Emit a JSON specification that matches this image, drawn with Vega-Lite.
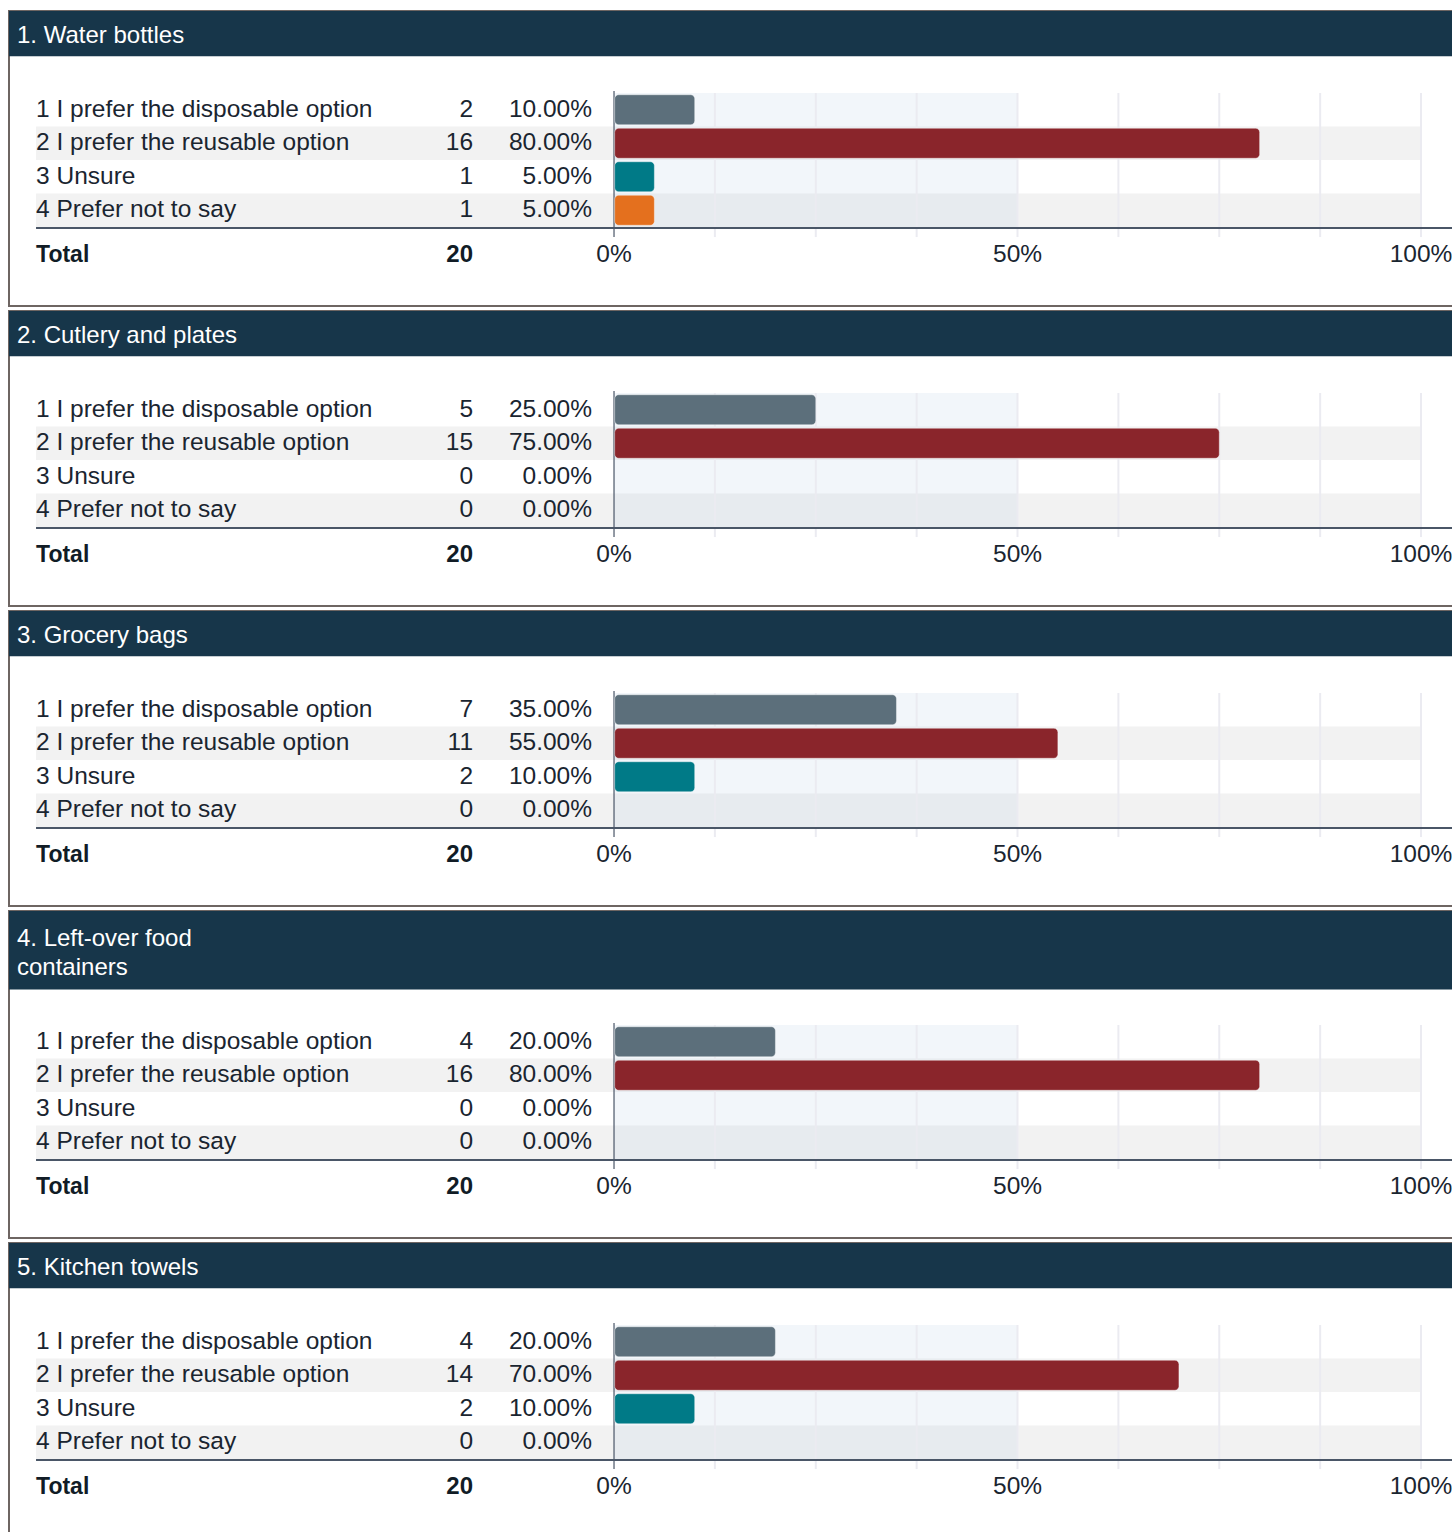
{
  "$schema": "https://vega.github.io/schema/vega-lite/v6.json",
  "padding": {"left": 8, "top": 10, "right": 0, "bottom": 0},
  "background": "white",
  "spacing": 3,
  "datasets": {
    "responses": [
      {"q": 1, "opt": 1, "label": "1 I prefer the disposable option", "count": 2, "pct": 0.10},
      {"q": 1, "opt": 2, "label": "2 I prefer the reusable option", "count": 16, "pct": 0.80},
      {"q": 1, "opt": 3, "label": "3 Unsure", "count": 1, "pct": 0.05},
      {"q": 1, "opt": 4, "label": "4 Prefer not to say", "count": 1, "pct": 0.05},
      {"q": 2, "opt": 1, "label": "1 I prefer the disposable option", "count": 5, "pct": 0.25},
      {"q": 2, "opt": 2, "label": "2 I prefer the reusable option", "count": 15, "pct": 0.75},
      {"q": 2, "opt": 3, "label": "3 Unsure", "count": 0, "pct": 0.0},
      {"q": 2, "opt": 4, "label": "4 Prefer not to say", "count": 0, "pct": 0.0},
      {"q": 3, "opt": 1, "label": "1 I prefer the disposable option", "count": 7, "pct": 0.35},
      {"q": 3, "opt": 2, "label": "2 I prefer the reusable option", "count": 11, "pct": 0.55},
      {"q": 3, "opt": 3, "label": "3 Unsure", "count": 2, "pct": 0.10},
      {"q": 3, "opt": 4, "label": "4 Prefer not to say", "count": 0, "pct": 0.0},
      {"q": 4, "opt": 1, "label": "1 I prefer the disposable option", "count": 4, "pct": 0.20},
      {"q": 4, "opt": 2, "label": "2 I prefer the reusable option", "count": 16, "pct": 0.80},
      {"q": 4, "opt": 3, "label": "3 Unsure", "count": 0, "pct": 0.0},
      {"q": 4, "opt": 4, "label": "4 Prefer not to say", "count": 0, "pct": 0.0},
      {"q": 5, "opt": 1, "label": "1 I prefer the disposable option", "count": 4, "pct": 0.20},
      {"q": 5, "opt": 2, "label": "2 I prefer the reusable option", "count": 14, "pct": 0.70},
      {"q": 5, "opt": 3, "label": "3 Unsure", "count": 2, "pct": 0.10},
      {"q": 5, "opt": 4, "label": "4 Prefer not to say", "count": 0, "pct": 0.0}
    ],
    "questions": [
      {"q": 1, "title": "1. Water bottles", "total": 20},
      {"q": 2, "title": "2. Cutlery and plates", "total": 20},
      {"q": 3, "title": "3. Grocery bags", "total": 20},
      {"q": 4, "title": "4. Left-over food\ncontainers", "total": 20},
      {"q": 5, "title": "5. Kitchen towels", "total": 20}
    ],
    "grid": [{"v": 0.125}, {"v": 0.25}, {"v": 0.375}, {"v": 0.5}, {"v": 0.625}, {"v": 0.75}, {"v": 0.875}, {"v": 1.0}],
    "ticklabels": [{"v": 0}, {"v": 0.5}, {"v": 1}]
  },
  "vconcat": [
    {
      "width": 1446, "height": 295,
      "layer": [
        {"data": {"name": "responses"}, "transform": [{"filter": "datum.q == 1 && (datum.opt == 2 || datum.opt == 4)"}],
         "mark": {"type": "bar", "orient": "horizontal", "height": 33.5, "color": "#f2f2f2"},
         "encoding": {"x": {"datum": -0.7162, "type": "quantitative", "scale": {"domain": [-0.7497, 1.0421], "nice": false, "zero": false, "padding": 0}, "axis": null}, "x2": {"datum": 1}, "y": {"field": "opt", "type": "quantitative", "scale": {"domain": [-1.948, 6.858], "nice": false, "zero": false, "reverse": true, "padding": 0}, "axis": null}}},
        {"data": {"name": "questions"}, "transform": [{"filter": "datum.q == 1"}],
         "mark": {"type": "rect", "color": "#b1c5df", "opacity": 0.16},
         "encoding": {"x": {"datum": 0, "type": "quantitative", "scale": {"domain": [-0.7497, 1.0421], "nice": false, "zero": false, "padding": 0}, "axis": null}, "x2": {"datum": 0.5}, "y": {"datum": 0.5, "type": "quantitative", "scale": {"domain": [-1.948, 6.858], "nice": false, "zero": false, "reverse": true, "padding": 0}, "axis": null}, "y2": {"datum": 4.5}}},
        {"data": {"name": "grid"},
         "mark": {"type": "rule", "color": "#ebebf1", "strokeWidth": 2},
         "encoding": {"x": {"field": "v", "type": "quantitative", "scale": {"domain": [-0.7497, 1.0421], "nice": false, "zero": false, "padding": 0}, "axis": null}, "y": {"datum": 0.5, "type": "quantitative", "scale": {"domain": [-1.948, 6.858], "nice": false, "zero": false, "reverse": true, "padding": 0}, "axis": null}, "y2": {"datum": 4.8}}},
        {"data": {"name": "questions"}, "transform": [{"filter": "datum.q == 1"}],
         "mark": {"type": "rule", "color": "#4a5667", "strokeWidth": 1.2},
         "encoding": {"x": {"datum": 0, "type": "quantitative", "scale": {"domain": [-0.7497, 1.0421], "nice": false, "zero": false, "padding": 0}, "axis": null}, "y": {"datum": 0.44, "type": "quantitative", "scale": {"domain": [-1.948, 6.858], "nice": false, "zero": false, "reverse": true, "padding": 0}, "axis": null}, "y2": {"datum": 4.8}}},
        {"data": {"name": "questions"}, "transform": [{"filter": "datum.q == 1"}],
         "mark": {"type": "rule", "color": "#4a5667", "strokeWidth": 2},
         "encoding": {"x": {"datum": -0.7162, "type": "quantitative", "scale": {"domain": [-0.7497, 1.0421], "nice": false, "zero": false, "padding": 0}, "axis": null}, "x2": {"datum": 1.0421}, "y": {"datum": 4.53, "type": "quantitative", "scale": {"domain": [-1.948, 6.858], "nice": false, "zero": false, "reverse": true, "padding": 0}, "axis": null}}},
        {"data": {"name": "responses"}, "transform": [{"filter": "datum.q == 1 && datum.pct > 0"}],
         "mark": {"type": "bar", "orient": "horizontal", "height": 30, "cornerRadius": 4, "stroke": "white", "strokeOpacity": 0.4, "strokeWidth": 1},
         "encoding": {"x": {"field": "pct", "type": "quantitative", "scale": {"domain": [-0.7497, 1.0421], "nice": false, "zero": false, "padding": 0}, "axis": null}, "x2": {"datum": 0.0008}, "y": {"field": "opt", "type": "quantitative", "scale": {"domain": [-1.948, 6.858], "nice": false, "zero": false, "reverse": true, "padding": 0}, "axis": null}, "color": {"field": "opt", "type": "nominal", "scale": {"domain": [1, 2, 3, 4], "range": ["#5c6f7b", "#8a252b", "#007a87", "#e4701e"]}, "legend": null}}},
        {"data": {"name": "responses"}, "transform": [{"filter": "datum.q == 1"}],
         "mark": {"type": "text", "align": "left", "baseline": "middle", "fontSize": 24.5, "color": "#1a2530", "font": "Liberation Sans"},
         "encoding": {"x": {"datum": -0.7162, "type": "quantitative", "scale": {"domain": [-0.7497, 1.0421], "nice": false, "zero": false, "padding": 0}, "axis": null}, "y": {"field": "opt", "type": "quantitative", "scale": {"domain": [-1.948, 6.858], "nice": false, "zero": false, "reverse": true, "padding": 0}, "axis": null}, "text": {"field": "label"}}},
        {"data": {"name": "responses"}, "transform": [{"filter": "datum.q == 1"}],
         "mark": {"type": "text", "align": "right", "baseline": "middle", "fontSize": 24.5, "color": "#1a2530", "font": "Liberation Sans"},
         "encoding": {"x": {"datum": -0.1747, "type": "quantitative", "scale": {"domain": [-0.7497, 1.0421], "nice": false, "zero": false, "padding": 0}, "axis": null}, "y": {"field": "opt", "type": "quantitative", "scale": {"domain": [-1.948, 6.858], "nice": false, "zero": false, "reverse": true, "padding": 0}, "axis": null}, "text": {"field": "count"}}},
        {"data": {"name": "responses"}, "transform": [{"filter": "datum.q == 1"}],
         "mark": {"type": "text", "align": "right", "baseline": "middle", "fontSize": 24.5, "color": "#1a2530", "font": "Liberation Sans"},
         "encoding": {"x": {"datum": -0.02726, "type": "quantitative", "scale": {"domain": [-0.7497, 1.0421], "nice": false, "zero": false, "padding": 0}, "axis": null}, "y": {"field": "opt", "type": "quantitative", "scale": {"domain": [-1.948, 6.858], "nice": false, "zero": false, "reverse": true, "padding": 0}, "axis": null}, "text": {"field": "pct", "type": "quantitative", "format": ".2%"}}},
        {"data": {"name": "questions"}, "transform": [{"filter": "datum.q == 1"}],
         "mark": {"type": "rect", "color": "#17364a"},
         "encoding": {"x": {"datum": -0.7497, "type": "quantitative", "scale": {"domain": [-0.7497, 1.0421], "nice": false, "zero": false, "padding": 0}, "axis": null}, "x2": {"datum": 1.0421}, "y": {"datum": -1.948, "type": "quantitative", "scale": {"domain": [-1.948, 6.858], "nice": false, "zero": false, "reverse": true, "padding": 0}, "axis": null}, "y2": {"datum": -0.6}}},
        {"data": {"name": "questions"}, "transform": [{"filter": "datum.q == 1"}],
         "mark": {"type": "text", "align": "left", "baseline": "middle", "fontSize": 24, "color": "white", "font": "Liberation Sans", "lineBreak": "\n", "lineHeight": 29},
         "encoding": {"x": {"datum": -0.7398, "type": "quantitative", "scale": {"domain": [-0.7497, 1.0421], "nice": false, "zero": false, "padding": 0}, "axis": null}, "y": {"datum": -1.2, "type": "quantitative", "scale": {"domain": [-1.948, 6.858], "nice": false, "zero": false, "reverse": true, "padding": 0}, "axis": null}, "text": {"field": "title"}}},
        {"data": {"name": "questions"}, "transform": [{"filter": "datum.q == 1"}],
         "mark": {"type": "text", "text": "Total", "align": "left", "baseline": "middle", "fontSize": 23, "fontWeight": "bold", "color": "#111c26", "font": "Liberation Sans"},
         "encoding": {"x": {"datum": -0.7162, "type": "quantitative", "scale": {"domain": [-0.7497, 1.0421], "nice": false, "zero": false, "padding": 0}, "axis": null}, "y": {"datum": 5.335, "type": "quantitative", "scale": {"domain": [-1.948, 6.858], "nice": false, "zero": false, "reverse": true, "padding": 0}, "axis": null}}},
        {"data": {"name": "questions"}, "transform": [{"filter": "datum.q == 1"}],
         "mark": {"type": "text", "align": "right", "baseline": "middle", "fontSize": 24, "fontWeight": "bold", "color": "#111c26", "font": "Liberation Sans"},
         "encoding": {"x": {"datum": -0.1747, "type": "quantitative", "scale": {"domain": [-0.7497, 1.0421], "nice": false, "zero": false, "padding": 0}, "axis": null}, "y": {"datum": 5.335, "type": "quantitative", "scale": {"domain": [-1.948, 6.858], "nice": false, "zero": false, "reverse": true, "padding": 0}, "axis": null}, "text": {"field": "total"}}},
        {"data": {"name": "ticklabels"},
         "mark": {"type": "text", "align": "center", "baseline": "middle", "fontSize": 24.5, "color": "#1a2530", "font": "Liberation Sans"},
         "encoding": {"x": {"field": "v", "type": "quantitative", "scale": {"domain": [-0.7497, 1.0421], "nice": false, "zero": false, "padding": 0}, "axis": null}, "y": {"datum": 5.335, "type": "quantitative", "scale": {"domain": [-1.948, 6.858], "nice": false, "zero": false, "reverse": true, "padding": 0}, "axis": null}, "text": {"field": "v", "type": "quantitative", "format": ".0%"}}}
      ]
    },
    {
      "width": 1446, "height": 295,
      "layer": [
        {"data": {"name": "responses"}, "transform": [{"filter": "datum.q == 2 && (datum.opt == 2 || datum.opt == 4)"}],
         "mark": {"type": "bar", "orient": "horizontal", "height": 33.5, "color": "#f2f2f2"},
         "encoding": {"x": {"datum": -0.7162, "type": "quantitative", "scale": {"domain": [-0.7497, 1.0421], "nice": false, "zero": false, "padding": 0}, "axis": null}, "x2": {"datum": 1}, "y": {"field": "opt", "type": "quantitative", "scale": {"domain": [-1.948, 6.858], "nice": false, "zero": false, "reverse": true, "padding": 0}, "axis": null}}},
        {"data": {"name": "questions"}, "transform": [{"filter": "datum.q == 2"}],
         "mark": {"type": "rect", "color": "#b1c5df", "opacity": 0.16},
         "encoding": {"x": {"datum": 0, "type": "quantitative", "scale": {"domain": [-0.7497, 1.0421], "nice": false, "zero": false, "padding": 0}, "axis": null}, "x2": {"datum": 0.5}, "y": {"datum": 0.5, "type": "quantitative", "scale": {"domain": [-1.948, 6.858], "nice": false, "zero": false, "reverse": true, "padding": 0}, "axis": null}, "y2": {"datum": 4.5}}},
        {"data": {"name": "grid"},
         "mark": {"type": "rule", "color": "#ebebf1", "strokeWidth": 2},
         "encoding": {"x": {"field": "v", "type": "quantitative", "scale": {"domain": [-0.7497, 1.0421], "nice": false, "zero": false, "padding": 0}, "axis": null}, "y": {"datum": 0.5, "type": "quantitative", "scale": {"domain": [-1.948, 6.858], "nice": false, "zero": false, "reverse": true, "padding": 0}, "axis": null}, "y2": {"datum": 4.8}}},
        {"data": {"name": "questions"}, "transform": [{"filter": "datum.q == 2"}],
         "mark": {"type": "rule", "color": "#4a5667", "strokeWidth": 1.2},
         "encoding": {"x": {"datum": 0, "type": "quantitative", "scale": {"domain": [-0.7497, 1.0421], "nice": false, "zero": false, "padding": 0}, "axis": null}, "y": {"datum": 0.44, "type": "quantitative", "scale": {"domain": [-1.948, 6.858], "nice": false, "zero": false, "reverse": true, "padding": 0}, "axis": null}, "y2": {"datum": 4.8}}},
        {"data": {"name": "questions"}, "transform": [{"filter": "datum.q == 2"}],
         "mark": {"type": "rule", "color": "#4a5667", "strokeWidth": 2},
         "encoding": {"x": {"datum": -0.7162, "type": "quantitative", "scale": {"domain": [-0.7497, 1.0421], "nice": false, "zero": false, "padding": 0}, "axis": null}, "x2": {"datum": 1.0421}, "y": {"datum": 4.53, "type": "quantitative", "scale": {"domain": [-1.948, 6.858], "nice": false, "zero": false, "reverse": true, "padding": 0}, "axis": null}}},
        {"data": {"name": "responses"}, "transform": [{"filter": "datum.q == 2 && datum.pct > 0"}],
         "mark": {"type": "bar", "orient": "horizontal", "height": 30, "cornerRadius": 4, "stroke": "white", "strokeOpacity": 0.4, "strokeWidth": 1},
         "encoding": {"x": {"field": "pct", "type": "quantitative", "scale": {"domain": [-0.7497, 1.0421], "nice": false, "zero": false, "padding": 0}, "axis": null}, "x2": {"datum": 0.0008}, "y": {"field": "opt", "type": "quantitative", "scale": {"domain": [-1.948, 6.858], "nice": false, "zero": false, "reverse": true, "padding": 0}, "axis": null}, "color": {"field": "opt", "type": "nominal", "scale": {"domain": [1, 2, 3, 4], "range": ["#5c6f7b", "#8a252b", "#007a87", "#e4701e"]}, "legend": null}}},
        {"data": {"name": "responses"}, "transform": [{"filter": "datum.q == 2"}],
         "mark": {"type": "text", "align": "left", "baseline": "middle", "fontSize": 24.5, "color": "#1a2530", "font": "Liberation Sans"},
         "encoding": {"x": {"datum": -0.7162, "type": "quantitative", "scale": {"domain": [-0.7497, 1.0421], "nice": false, "zero": false, "padding": 0}, "axis": null}, "y": {"field": "opt", "type": "quantitative", "scale": {"domain": [-1.948, 6.858], "nice": false, "zero": false, "reverse": true, "padding": 0}, "axis": null}, "text": {"field": "label"}}},
        {"data": {"name": "responses"}, "transform": [{"filter": "datum.q == 2"}],
         "mark": {"type": "text", "align": "right", "baseline": "middle", "fontSize": 24.5, "color": "#1a2530", "font": "Liberation Sans"},
         "encoding": {"x": {"datum": -0.1747, "type": "quantitative", "scale": {"domain": [-0.7497, 1.0421], "nice": false, "zero": false, "padding": 0}, "axis": null}, "y": {"field": "opt", "type": "quantitative", "scale": {"domain": [-1.948, 6.858], "nice": false, "zero": false, "reverse": true, "padding": 0}, "axis": null}, "text": {"field": "count"}}},
        {"data": {"name": "responses"}, "transform": [{"filter": "datum.q == 2"}],
         "mark": {"type": "text", "align": "right", "baseline": "middle", "fontSize": 24.5, "color": "#1a2530", "font": "Liberation Sans"},
         "encoding": {"x": {"datum": -0.02726, "type": "quantitative", "scale": {"domain": [-0.7497, 1.0421], "nice": false, "zero": false, "padding": 0}, "axis": null}, "y": {"field": "opt", "type": "quantitative", "scale": {"domain": [-1.948, 6.858], "nice": false, "zero": false, "reverse": true, "padding": 0}, "axis": null}, "text": {"field": "pct", "type": "quantitative", "format": ".2%"}}},
        {"data": {"name": "questions"}, "transform": [{"filter": "datum.q == 2"}],
         "mark": {"type": "rect", "color": "#17364a"},
         "encoding": {"x": {"datum": -0.7497, "type": "quantitative", "scale": {"domain": [-0.7497, 1.0421], "nice": false, "zero": false, "padding": 0}, "axis": null}, "x2": {"datum": 1.0421}, "y": {"datum": -1.948, "type": "quantitative", "scale": {"domain": [-1.948, 6.858], "nice": false, "zero": false, "reverse": true, "padding": 0}, "axis": null}, "y2": {"datum": -0.6}}},
        {"data": {"name": "questions"}, "transform": [{"filter": "datum.q == 2"}],
         "mark": {"type": "text", "align": "left", "baseline": "middle", "fontSize": 24, "color": "white", "font": "Liberation Sans", "lineBreak": "\n", "lineHeight": 29},
         "encoding": {"x": {"datum": -0.7398, "type": "quantitative", "scale": {"domain": [-0.7497, 1.0421], "nice": false, "zero": false, "padding": 0}, "axis": null}, "y": {"datum": -1.2, "type": "quantitative", "scale": {"domain": [-1.948, 6.858], "nice": false, "zero": false, "reverse": true, "padding": 0}, "axis": null}, "text": {"field": "title"}}},
        {"data": {"name": "questions"}, "transform": [{"filter": "datum.q == 2"}],
         "mark": {"type": "text", "text": "Total", "align": "left", "baseline": "middle", "fontSize": 23, "fontWeight": "bold", "color": "#111c26", "font": "Liberation Sans"},
         "encoding": {"x": {"datum": -0.7162, "type": "quantitative", "scale": {"domain": [-0.7497, 1.0421], "nice": false, "zero": false, "padding": 0}, "axis": null}, "y": {"datum": 5.335, "type": "quantitative", "scale": {"domain": [-1.948, 6.858], "nice": false, "zero": false, "reverse": true, "padding": 0}, "axis": null}}},
        {"data": {"name": "questions"}, "transform": [{"filter": "datum.q == 2"}],
         "mark": {"type": "text", "align": "right", "baseline": "middle", "fontSize": 24, "fontWeight": "bold", "color": "#111c26", "font": "Liberation Sans"},
         "encoding": {"x": {"datum": -0.1747, "type": "quantitative", "scale": {"domain": [-0.7497, 1.0421], "nice": false, "zero": false, "padding": 0}, "axis": null}, "y": {"datum": 5.335, "type": "quantitative", "scale": {"domain": [-1.948, 6.858], "nice": false, "zero": false, "reverse": true, "padding": 0}, "axis": null}, "text": {"field": "total"}}},
        {"data": {"name": "ticklabels"},
         "mark": {"type": "text", "align": "center", "baseline": "middle", "fontSize": 24.5, "color": "#1a2530", "font": "Liberation Sans"},
         "encoding": {"x": {"field": "v", "type": "quantitative", "scale": {"domain": [-0.7497, 1.0421], "nice": false, "zero": false, "padding": 0}, "axis": null}, "y": {"datum": 5.335, "type": "quantitative", "scale": {"domain": [-1.948, 6.858], "nice": false, "zero": false, "reverse": true, "padding": 0}, "axis": null}, "text": {"field": "v", "type": "quantitative", "format": ".0%"}}}
      ]
    },
    {
      "width": 1446, "height": 295,
      "layer": [
        {"data": {"name": "responses"}, "transform": [{"filter": "datum.q == 3 && (datum.opt == 2 || datum.opt == 4)"}],
         "mark": {"type": "bar", "orient": "horizontal", "height": 33.5, "color": "#f2f2f2"},
         "encoding": {"x": {"datum": -0.7162, "type": "quantitative", "scale": {"domain": [-0.7497, 1.0421], "nice": false, "zero": false, "padding": 0}, "axis": null}, "x2": {"datum": 1}, "y": {"field": "opt", "type": "quantitative", "scale": {"domain": [-1.948, 6.858], "nice": false, "zero": false, "reverse": true, "padding": 0}, "axis": null}}},
        {"data": {"name": "questions"}, "transform": [{"filter": "datum.q == 3"}],
         "mark": {"type": "rect", "color": "#b1c5df", "opacity": 0.16},
         "encoding": {"x": {"datum": 0, "type": "quantitative", "scale": {"domain": [-0.7497, 1.0421], "nice": false, "zero": false, "padding": 0}, "axis": null}, "x2": {"datum": 0.5}, "y": {"datum": 0.5, "type": "quantitative", "scale": {"domain": [-1.948, 6.858], "nice": false, "zero": false, "reverse": true, "padding": 0}, "axis": null}, "y2": {"datum": 4.5}}},
        {"data": {"name": "grid"},
         "mark": {"type": "rule", "color": "#ebebf1", "strokeWidth": 2},
         "encoding": {"x": {"field": "v", "type": "quantitative", "scale": {"domain": [-0.7497, 1.0421], "nice": false, "zero": false, "padding": 0}, "axis": null}, "y": {"datum": 0.5, "type": "quantitative", "scale": {"domain": [-1.948, 6.858], "nice": false, "zero": false, "reverse": true, "padding": 0}, "axis": null}, "y2": {"datum": 4.8}}},
        {"data": {"name": "questions"}, "transform": [{"filter": "datum.q == 3"}],
         "mark": {"type": "rule", "color": "#4a5667", "strokeWidth": 1.2},
         "encoding": {"x": {"datum": 0, "type": "quantitative", "scale": {"domain": [-0.7497, 1.0421], "nice": false, "zero": false, "padding": 0}, "axis": null}, "y": {"datum": 0.44, "type": "quantitative", "scale": {"domain": [-1.948, 6.858], "nice": false, "zero": false, "reverse": true, "padding": 0}, "axis": null}, "y2": {"datum": 4.8}}},
        {"data": {"name": "questions"}, "transform": [{"filter": "datum.q == 3"}],
         "mark": {"type": "rule", "color": "#4a5667", "strokeWidth": 2},
         "encoding": {"x": {"datum": -0.7162, "type": "quantitative", "scale": {"domain": [-0.7497, 1.0421], "nice": false, "zero": false, "padding": 0}, "axis": null}, "x2": {"datum": 1.0421}, "y": {"datum": 4.53, "type": "quantitative", "scale": {"domain": [-1.948, 6.858], "nice": false, "zero": false, "reverse": true, "padding": 0}, "axis": null}}},
        {"data": {"name": "responses"}, "transform": [{"filter": "datum.q == 3 && datum.pct > 0"}],
         "mark": {"type": "bar", "orient": "horizontal", "height": 30, "cornerRadius": 4, "stroke": "white", "strokeOpacity": 0.4, "strokeWidth": 1},
         "encoding": {"x": {"field": "pct", "type": "quantitative", "scale": {"domain": [-0.7497, 1.0421], "nice": false, "zero": false, "padding": 0}, "axis": null}, "x2": {"datum": 0.0008}, "y": {"field": "opt", "type": "quantitative", "scale": {"domain": [-1.948, 6.858], "nice": false, "zero": false, "reverse": true, "padding": 0}, "axis": null}, "color": {"field": "opt", "type": "nominal", "scale": {"domain": [1, 2, 3, 4], "range": ["#5c6f7b", "#8a252b", "#007a87", "#e4701e"]}, "legend": null}}},
        {"data": {"name": "responses"}, "transform": [{"filter": "datum.q == 3"}],
         "mark": {"type": "text", "align": "left", "baseline": "middle", "fontSize": 24.5, "color": "#1a2530", "font": "Liberation Sans"},
         "encoding": {"x": {"datum": -0.7162, "type": "quantitative", "scale": {"domain": [-0.7497, 1.0421], "nice": false, "zero": false, "padding": 0}, "axis": null}, "y": {"field": "opt", "type": "quantitative", "scale": {"domain": [-1.948, 6.858], "nice": false, "zero": false, "reverse": true, "padding": 0}, "axis": null}, "text": {"field": "label"}}},
        {"data": {"name": "responses"}, "transform": [{"filter": "datum.q == 3"}],
         "mark": {"type": "text", "align": "right", "baseline": "middle", "fontSize": 24.5, "color": "#1a2530", "font": "Liberation Sans"},
         "encoding": {"x": {"datum": -0.1747, "type": "quantitative", "scale": {"domain": [-0.7497, 1.0421], "nice": false, "zero": false, "padding": 0}, "axis": null}, "y": {"field": "opt", "type": "quantitative", "scale": {"domain": [-1.948, 6.858], "nice": false, "zero": false, "reverse": true, "padding": 0}, "axis": null}, "text": {"field": "count"}}},
        {"data": {"name": "responses"}, "transform": [{"filter": "datum.q == 3"}],
         "mark": {"type": "text", "align": "right", "baseline": "middle", "fontSize": 24.5, "color": "#1a2530", "font": "Liberation Sans"},
         "encoding": {"x": {"datum": -0.02726, "type": "quantitative", "scale": {"domain": [-0.7497, 1.0421], "nice": false, "zero": false, "padding": 0}, "axis": null}, "y": {"field": "opt", "type": "quantitative", "scale": {"domain": [-1.948, 6.858], "nice": false, "zero": false, "reverse": true, "padding": 0}, "axis": null}, "text": {"field": "pct", "type": "quantitative", "format": ".2%"}}},
        {"data": {"name": "questions"}, "transform": [{"filter": "datum.q == 3"}],
         "mark": {"type": "rect", "color": "#17364a"},
         "encoding": {"x": {"datum": -0.7497, "type": "quantitative", "scale": {"domain": [-0.7497, 1.0421], "nice": false, "zero": false, "padding": 0}, "axis": null}, "x2": {"datum": 1.0421}, "y": {"datum": -1.948, "type": "quantitative", "scale": {"domain": [-1.948, 6.858], "nice": false, "zero": false, "reverse": true, "padding": 0}, "axis": null}, "y2": {"datum": -0.6}}},
        {"data": {"name": "questions"}, "transform": [{"filter": "datum.q == 3"}],
         "mark": {"type": "text", "align": "left", "baseline": "middle", "fontSize": 24, "color": "white", "font": "Liberation Sans", "lineBreak": "\n", "lineHeight": 29},
         "encoding": {"x": {"datum": -0.7398, "type": "quantitative", "scale": {"domain": [-0.7497, 1.0421], "nice": false, "zero": false, "padding": 0}, "axis": null}, "y": {"datum": -1.2, "type": "quantitative", "scale": {"domain": [-1.948, 6.858], "nice": false, "zero": false, "reverse": true, "padding": 0}, "axis": null}, "text": {"field": "title"}}},
        {"data": {"name": "questions"}, "transform": [{"filter": "datum.q == 3"}],
         "mark": {"type": "text", "text": "Total", "align": "left", "baseline": "middle", "fontSize": 23, "fontWeight": "bold", "color": "#111c26", "font": "Liberation Sans"},
         "encoding": {"x": {"datum": -0.7162, "type": "quantitative", "scale": {"domain": [-0.7497, 1.0421], "nice": false, "zero": false, "padding": 0}, "axis": null}, "y": {"datum": 5.335, "type": "quantitative", "scale": {"domain": [-1.948, 6.858], "nice": false, "zero": false, "reverse": true, "padding": 0}, "axis": null}}},
        {"data": {"name": "questions"}, "transform": [{"filter": "datum.q == 3"}],
         "mark": {"type": "text", "align": "right", "baseline": "middle", "fontSize": 24, "fontWeight": "bold", "color": "#111c26", "font": "Liberation Sans"},
         "encoding": {"x": {"datum": -0.1747, "type": "quantitative", "scale": {"domain": [-0.7497, 1.0421], "nice": false, "zero": false, "padding": 0}, "axis": null}, "y": {"datum": 5.335, "type": "quantitative", "scale": {"domain": [-1.948, 6.858], "nice": false, "zero": false, "reverse": true, "padding": 0}, "axis": null}, "text": {"field": "total"}}},
        {"data": {"name": "ticklabels"},
         "mark": {"type": "text", "align": "center", "baseline": "middle", "fontSize": 24.5, "color": "#1a2530", "font": "Liberation Sans"},
         "encoding": {"x": {"field": "v", "type": "quantitative", "scale": {"domain": [-0.7497, 1.0421], "nice": false, "zero": false, "padding": 0}, "axis": null}, "y": {"datum": 5.335, "type": "quantitative", "scale": {"domain": [-1.948, 6.858], "nice": false, "zero": false, "reverse": true, "padding": 0}, "axis": null}, "text": {"field": "v", "type": "quantitative", "format": ".0%"}}}
      ]
    },
    {
      "width": 1446, "height": 327,
      "layer": [
        {"data": {"name": "responses"}, "transform": [{"filter": "datum.q == 4 && (datum.opt == 2 || datum.opt == 4)"}],
         "mark": {"type": "bar", "orient": "horizontal", "height": 33.5, "color": "#f2f2f2"},
         "encoding": {"x": {"datum": -0.7162, "type": "quantitative", "scale": {"domain": [-0.7497, 1.0421], "nice": false, "zero": false, "padding": 0}, "axis": null}, "x2": {"datum": 1}, "y": {"field": "opt", "type": "quantitative", "scale": {"domain": [-2.903, 6.858], "nice": false, "zero": false, "reverse": true, "padding": 0}, "axis": null}}},
        {"data": {"name": "questions"}, "transform": [{"filter": "datum.q == 4"}],
         "mark": {"type": "rect", "color": "#b1c5df", "opacity": 0.16},
         "encoding": {"x": {"datum": 0, "type": "quantitative", "scale": {"domain": [-0.7497, 1.0421], "nice": false, "zero": false, "padding": 0}, "axis": null}, "x2": {"datum": 0.5}, "y": {"datum": 0.5, "type": "quantitative", "scale": {"domain": [-2.903, 6.858], "nice": false, "zero": false, "reverse": true, "padding": 0}, "axis": null}, "y2": {"datum": 4.5}}},
        {"data": {"name": "grid"},
         "mark": {"type": "rule", "color": "#ebebf1", "strokeWidth": 2},
         "encoding": {"x": {"field": "v", "type": "quantitative", "scale": {"domain": [-0.7497, 1.0421], "nice": false, "zero": false, "padding": 0}, "axis": null}, "y": {"datum": 0.5, "type": "quantitative", "scale": {"domain": [-2.903, 6.858], "nice": false, "zero": false, "reverse": true, "padding": 0}, "axis": null}, "y2": {"datum": 4.8}}},
        {"data": {"name": "questions"}, "transform": [{"filter": "datum.q == 4"}],
         "mark": {"type": "rule", "color": "#4a5667", "strokeWidth": 1.2},
         "encoding": {"x": {"datum": 0, "type": "quantitative", "scale": {"domain": [-0.7497, 1.0421], "nice": false, "zero": false, "padding": 0}, "axis": null}, "y": {"datum": 0.44, "type": "quantitative", "scale": {"domain": [-2.903, 6.858], "nice": false, "zero": false, "reverse": true, "padding": 0}, "axis": null}, "y2": {"datum": 4.8}}},
        {"data": {"name": "questions"}, "transform": [{"filter": "datum.q == 4"}],
         "mark": {"type": "rule", "color": "#4a5667", "strokeWidth": 2},
         "encoding": {"x": {"datum": -0.7162, "type": "quantitative", "scale": {"domain": [-0.7497, 1.0421], "nice": false, "zero": false, "padding": 0}, "axis": null}, "x2": {"datum": 1.0421}, "y": {"datum": 4.53, "type": "quantitative", "scale": {"domain": [-2.903, 6.858], "nice": false, "zero": false, "reverse": true, "padding": 0}, "axis": null}}},
        {"data": {"name": "responses"}, "transform": [{"filter": "datum.q == 4 && datum.pct > 0"}],
         "mark": {"type": "bar", "orient": "horizontal", "height": 30, "cornerRadius": 4, "stroke": "white", "strokeOpacity": 0.4, "strokeWidth": 1},
         "encoding": {"x": {"field": "pct", "type": "quantitative", "scale": {"domain": [-0.7497, 1.0421], "nice": false, "zero": false, "padding": 0}, "axis": null}, "x2": {"datum": 0.0008}, "y": {"field": "opt", "type": "quantitative", "scale": {"domain": [-2.903, 6.858], "nice": false, "zero": false, "reverse": true, "padding": 0}, "axis": null}, "color": {"field": "opt", "type": "nominal", "scale": {"domain": [1, 2, 3, 4], "range": ["#5c6f7b", "#8a252b", "#007a87", "#e4701e"]}, "legend": null}}},
        {"data": {"name": "responses"}, "transform": [{"filter": "datum.q == 4"}],
         "mark": {"type": "text", "align": "left", "baseline": "middle", "fontSize": 24.5, "color": "#1a2530", "font": "Liberation Sans"},
         "encoding": {"x": {"datum": -0.7162, "type": "quantitative", "scale": {"domain": [-0.7497, 1.0421], "nice": false, "zero": false, "padding": 0}, "axis": null}, "y": {"field": "opt", "type": "quantitative", "scale": {"domain": [-2.903, 6.858], "nice": false, "zero": false, "reverse": true, "padding": 0}, "axis": null}, "text": {"field": "label"}}},
        {"data": {"name": "responses"}, "transform": [{"filter": "datum.q == 4"}],
         "mark": {"type": "text", "align": "right", "baseline": "middle", "fontSize": 24.5, "color": "#1a2530", "font": "Liberation Sans"},
         "encoding": {"x": {"datum": -0.1747, "type": "quantitative", "scale": {"domain": [-0.7497, 1.0421], "nice": false, "zero": false, "padding": 0}, "axis": null}, "y": {"field": "opt", "type": "quantitative", "scale": {"domain": [-2.903, 6.858], "nice": false, "zero": false, "reverse": true, "padding": 0}, "axis": null}, "text": {"field": "count"}}},
        {"data": {"name": "responses"}, "transform": [{"filter": "datum.q == 4"}],
         "mark": {"type": "text", "align": "right", "baseline": "middle", "fontSize": 24.5, "color": "#1a2530", "font": "Liberation Sans"},
         "encoding": {"x": {"datum": -0.02726, "type": "quantitative", "scale": {"domain": [-0.7497, 1.0421], "nice": false, "zero": false, "padding": 0}, "axis": null}, "y": {"field": "opt", "type": "quantitative", "scale": {"domain": [-2.903, 6.858], "nice": false, "zero": false, "reverse": true, "padding": 0}, "axis": null}, "text": {"field": "pct", "type": "quantitative", "format": ".2%"}}},
        {"data": {"name": "questions"}, "transform": [{"filter": "datum.q == 4"}],
         "mark": {"type": "rect", "color": "#17364a"},
         "encoding": {"x": {"datum": -0.7497, "type": "quantitative", "scale": {"domain": [-0.7497, 1.0421], "nice": false, "zero": false, "padding": 0}, "axis": null}, "x2": {"datum": 1.0421}, "y": {"datum": -2.903, "type": "quantitative", "scale": {"domain": [-2.903, 6.858], "nice": false, "zero": false, "reverse": true, "padding": 0}, "axis": null}, "y2": {"datum": -0.56}}},
        {"data": {"name": "questions"}, "transform": [{"filter": "datum.q == 4"}],
         "mark": {"type": "text", "align": "left", "baseline": "middle", "fontSize": 24, "color": "white", "font": "Liberation Sans", "lineBreak": "\n", "lineHeight": 29},
         "encoding": {"x": {"datum": -0.7398, "type": "quantitative", "scale": {"domain": [-0.7497, 1.0421], "nice": false, "zero": false, "padding": 0}, "axis": null}, "y": {"datum": -2.067, "type": "quantitative", "scale": {"domain": [-2.903, 6.858], "nice": false, "zero": false, "reverse": true, "padding": 0}, "axis": null}, "text": {"field": "title"}}},
        {"data": {"name": "questions"}, "transform": [{"filter": "datum.q == 4"}],
         "mark": {"type": "text", "text": "Total", "align": "left", "baseline": "middle", "fontSize": 23, "fontWeight": "bold", "color": "#111c26", "font": "Liberation Sans"},
         "encoding": {"x": {"datum": -0.7162, "type": "quantitative", "scale": {"domain": [-0.7497, 1.0421], "nice": false, "zero": false, "padding": 0}, "axis": null}, "y": {"datum": 5.335, "type": "quantitative", "scale": {"domain": [-2.903, 6.858], "nice": false, "zero": false, "reverse": true, "padding": 0}, "axis": null}}},
        {"data": {"name": "questions"}, "transform": [{"filter": "datum.q == 4"}],
         "mark": {"type": "text", "align": "right", "baseline": "middle", "fontSize": 24, "fontWeight": "bold", "color": "#111c26", "font": "Liberation Sans"},
         "encoding": {"x": {"datum": -0.1747, "type": "quantitative", "scale": {"domain": [-0.7497, 1.0421], "nice": false, "zero": false, "padding": 0}, "axis": null}, "y": {"datum": 5.335, "type": "quantitative", "scale": {"domain": [-2.903, 6.858], "nice": false, "zero": false, "reverse": true, "padding": 0}, "axis": null}, "text": {"field": "total"}}},
        {"data": {"name": "ticklabels"},
         "mark": {"type": "text", "align": "center", "baseline": "middle", "fontSize": 24.5, "color": "#1a2530", "font": "Liberation Sans"},
         "encoding": {"x": {"field": "v", "type": "quantitative", "scale": {"domain": [-0.7497, 1.0421], "nice": false, "zero": false, "padding": 0}, "axis": null}, "y": {"datum": 5.335, "type": "quantitative", "scale": {"domain": [-2.903, 6.858], "nice": false, "zero": false, "reverse": true, "padding": 0}, "axis": null}, "text": {"field": "v", "type": "quantitative", "format": ".0%"}}}
      ]
    },
    {
      "width": 1446, "height": 295,
      "layer": [
        {"data": {"name": "responses"}, "transform": [{"filter": "datum.q == 5 && (datum.opt == 2 || datum.opt == 4)"}],
         "mark": {"type": "bar", "orient": "horizontal", "height": 33.5, "color": "#f2f2f2"},
         "encoding": {"x": {"datum": -0.7162, "type": "quantitative", "scale": {"domain": [-0.7497, 1.0421], "nice": false, "zero": false, "padding": 0}, "axis": null}, "x2": {"datum": 1}, "y": {"field": "opt", "type": "quantitative", "scale": {"domain": [-1.948, 6.858], "nice": false, "zero": false, "reverse": true, "padding": 0}, "axis": null}}},
        {"data": {"name": "questions"}, "transform": [{"filter": "datum.q == 5"}],
         "mark": {"type": "rect", "color": "#b1c5df", "opacity": 0.16},
         "encoding": {"x": {"datum": 0, "type": "quantitative", "scale": {"domain": [-0.7497, 1.0421], "nice": false, "zero": false, "padding": 0}, "axis": null}, "x2": {"datum": 0.5}, "y": {"datum": 0.5, "type": "quantitative", "scale": {"domain": [-1.948, 6.858], "nice": false, "zero": false, "reverse": true, "padding": 0}, "axis": null}, "y2": {"datum": 4.5}}},
        {"data": {"name": "grid"},
         "mark": {"type": "rule", "color": "#ebebf1", "strokeWidth": 2},
         "encoding": {"x": {"field": "v", "type": "quantitative", "scale": {"domain": [-0.7497, 1.0421], "nice": false, "zero": false, "padding": 0}, "axis": null}, "y": {"datum": 0.5, "type": "quantitative", "scale": {"domain": [-1.948, 6.858], "nice": false, "zero": false, "reverse": true, "padding": 0}, "axis": null}, "y2": {"datum": 4.8}}},
        {"data": {"name": "questions"}, "transform": [{"filter": "datum.q == 5"}],
         "mark": {"type": "rule", "color": "#4a5667", "strokeWidth": 1.2},
         "encoding": {"x": {"datum": 0, "type": "quantitative", "scale": {"domain": [-0.7497, 1.0421], "nice": false, "zero": false, "padding": 0}, "axis": null}, "y": {"datum": 0.44, "type": "quantitative", "scale": {"domain": [-1.948, 6.858], "nice": false, "zero": false, "reverse": true, "padding": 0}, "axis": null}, "y2": {"datum": 4.8}}},
        {"data": {"name": "questions"}, "transform": [{"filter": "datum.q == 5"}],
         "mark": {"type": "rule", "color": "#4a5667", "strokeWidth": 2},
         "encoding": {"x": {"datum": -0.7162, "type": "quantitative", "scale": {"domain": [-0.7497, 1.0421], "nice": false, "zero": false, "padding": 0}, "axis": null}, "x2": {"datum": 1.0421}, "y": {"datum": 4.53, "type": "quantitative", "scale": {"domain": [-1.948, 6.858], "nice": false, "zero": false, "reverse": true, "padding": 0}, "axis": null}}},
        {"data": {"name": "responses"}, "transform": [{"filter": "datum.q == 5 && datum.pct > 0"}],
         "mark": {"type": "bar", "orient": "horizontal", "height": 30, "cornerRadius": 4, "stroke": "white", "strokeOpacity": 0.4, "strokeWidth": 1},
         "encoding": {"x": {"field": "pct", "type": "quantitative", "scale": {"domain": [-0.7497, 1.0421], "nice": false, "zero": false, "padding": 0}, "axis": null}, "x2": {"datum": 0.0008}, "y": {"field": "opt", "type": "quantitative", "scale": {"domain": [-1.948, 6.858], "nice": false, "zero": false, "reverse": true, "padding": 0}, "axis": null}, "color": {"field": "opt", "type": "nominal", "scale": {"domain": [1, 2, 3, 4], "range": ["#5c6f7b", "#8a252b", "#007a87", "#e4701e"]}, "legend": null}}},
        {"data": {"name": "responses"}, "transform": [{"filter": "datum.q == 5"}],
         "mark": {"type": "text", "align": "left", "baseline": "middle", "fontSize": 24.5, "color": "#1a2530", "font": "Liberation Sans"},
         "encoding": {"x": {"datum": -0.7162, "type": "quantitative", "scale": {"domain": [-0.7497, 1.0421], "nice": false, "zero": false, "padding": 0}, "axis": null}, "y": {"field": "opt", "type": "quantitative", "scale": {"domain": [-1.948, 6.858], "nice": false, "zero": false, "reverse": true, "padding": 0}, "axis": null}, "text": {"field": "label"}}},
        {"data": {"name": "responses"}, "transform": [{"filter": "datum.q == 5"}],
         "mark": {"type": "text", "align": "right", "baseline": "middle", "fontSize": 24.5, "color": "#1a2530", "font": "Liberation Sans"},
         "encoding": {"x": {"datum": -0.1747, "type": "quantitative", "scale": {"domain": [-0.7497, 1.0421], "nice": false, "zero": false, "padding": 0}, "axis": null}, "y": {"field": "opt", "type": "quantitative", "scale": {"domain": [-1.948, 6.858], "nice": false, "zero": false, "reverse": true, "padding": 0}, "axis": null}, "text": {"field": "count"}}},
        {"data": {"name": "responses"}, "transform": [{"filter": "datum.q == 5"}],
         "mark": {"type": "text", "align": "right", "baseline": "middle", "fontSize": 24.5, "color": "#1a2530", "font": "Liberation Sans"},
         "encoding": {"x": {"datum": -0.02726, "type": "quantitative", "scale": {"domain": [-0.7497, 1.0421], "nice": false, "zero": false, "padding": 0}, "axis": null}, "y": {"field": "opt", "type": "quantitative", "scale": {"domain": [-1.948, 6.858], "nice": false, "zero": false, "reverse": true, "padding": 0}, "axis": null}, "text": {"field": "pct", "type": "quantitative", "format": ".2%"}}},
        {"data": {"name": "questions"}, "transform": [{"filter": "datum.q == 5"}],
         "mark": {"type": "rect", "color": "#17364a"},
         "encoding": {"x": {"datum": -0.7497, "type": "quantitative", "scale": {"domain": [-0.7497, 1.0421], "nice": false, "zero": false, "padding": 0}, "axis": null}, "x2": {"datum": 1.0421}, "y": {"datum": -1.948, "type": "quantitative", "scale": {"domain": [-1.948, 6.858], "nice": false, "zero": false, "reverse": true, "padding": 0}, "axis": null}, "y2": {"datum": -0.6}}},
        {"data": {"name": "questions"}, "transform": [{"filter": "datum.q == 5"}],
         "mark": {"type": "text", "align": "left", "baseline": "middle", "fontSize": 24, "color": "white", "font": "Liberation Sans", "lineBreak": "\n", "lineHeight": 29},
         "encoding": {"x": {"datum": -0.7398, "type": "quantitative", "scale": {"domain": [-0.7497, 1.0421], "nice": false, "zero": false, "padding": 0}, "axis": null}, "y": {"datum": -1.2, "type": "quantitative", "scale": {"domain": [-1.948, 6.858], "nice": false, "zero": false, "reverse": true, "padding": 0}, "axis": null}, "text": {"field": "title"}}},
        {"data": {"name": "questions"}, "transform": [{"filter": "datum.q == 5"}],
         "mark": {"type": "text", "text": "Total", "align": "left", "baseline": "middle", "fontSize": 23, "fontWeight": "bold", "color": "#111c26", "font": "Liberation Sans"},
         "encoding": {"x": {"datum": -0.7162, "type": "quantitative", "scale": {"domain": [-0.7497, 1.0421], "nice": false, "zero": false, "padding": 0}, "axis": null}, "y": {"datum": 5.335, "type": "quantitative", "scale": {"domain": [-1.948, 6.858], "nice": false, "zero": false, "reverse": true, "padding": 0}, "axis": null}}},
        {"data": {"name": "questions"}, "transform": [{"filter": "datum.q == 5"}],
         "mark": {"type": "text", "align": "right", "baseline": "middle", "fontSize": 24, "fontWeight": "bold", "color": "#111c26", "font": "Liberation Sans"},
         "encoding": {"x": {"datum": -0.1747, "type": "quantitative", "scale": {"domain": [-0.7497, 1.0421], "nice": false, "zero": false, "padding": 0}, "axis": null}, "y": {"datum": 5.335, "type": "quantitative", "scale": {"domain": [-1.948, 6.858], "nice": false, "zero": false, "reverse": true, "padding": 0}, "axis": null}, "text": {"field": "total"}}},
        {"data": {"name": "ticklabels"},
         "mark": {"type": "text", "align": "center", "baseline": "middle", "fontSize": 24.5, "color": "#1a2530", "font": "Liberation Sans"},
         "encoding": {"x": {"field": "v", "type": "quantitative", "scale": {"domain": [-0.7497, 1.0421], "nice": false, "zero": false, "padding": 0}, "axis": null}, "y": {"datum": 5.335, "type": "quantitative", "scale": {"domain": [-1.948, 6.858], "nice": false, "zero": false, "reverse": true, "padding": 0}, "axis": null}, "text": {"field": "v", "type": "quantitative", "format": ".0%"}}}
      ]
    }
  ],
  "config": {
    "view": {"stroke": "#6e6562", "strokeWidth": 2},
    "axis": {"disable": true},
    "legend": {"disable": true},
    "scale": {"continuousPadding": 0},
    "text": {"font": "Liberation Sans"}
  }
}
